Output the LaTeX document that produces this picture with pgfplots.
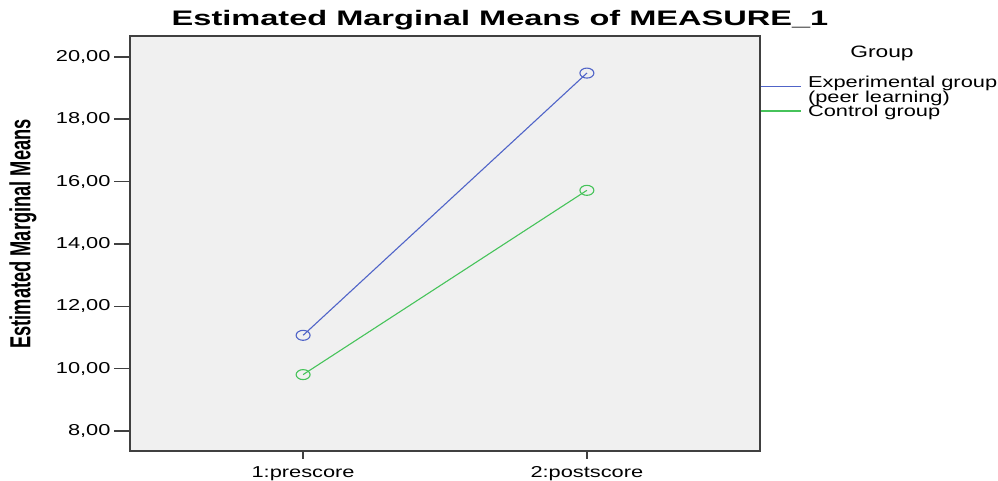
\documentclass[border=0pt]{standalone}
\usepackage{pgfplots}
\pgfplotsset{compat=1.18}
\usepackage{fontspec}
\setmainfont{Liberation Sans}
\newfontfamily\tickfont[FakeStretch=1.38]{Liberation Sans}
\newfontfamily\titlefont[FakeStretch=1.55]{Liberation Sans}
\newfontfamily\ylabfont[FakeStretch=0.63]{Liberation Sans}
\definecolor{spssblue}{RGB}{80,100,200}
\definecolor{spssgreen}{RGB}{70,195,90}
\definecolor{bg}{RGB}{240,240,240}
\definecolor{axc}{RGB}{64,64,64}
\begin{document}
\begin{tikzpicture}
\begin{axis}[name=ax, at={(0,0)}, anchor=south west,
  scale only axis, width=630pt, height=415pt,
  xmin=0.39, xmax=2.61, ymin=7.36, ymax=20.67,
  xtick={1,2}, xticklabels={1:prescore,2:postscore},
  xtick style={draw=none},
  ytick={8,10,12,14,16,18,20},
  xtick pos=bottom, ytick pos=left,
  tick align=outside, major tick length=16pt,
  tick style={axc, line width=1.5pt},
  axis line style={axc, line width=1.5pt},
  axis background/.style={fill=bg},
  yticklabel style={font=\tickfont\fontsize{15.8}{18}\selectfont,
    /pgf/number format/.cd, fixed, fixed zerofill, precision=2, use comma, assume math mode=true},
  xticklabel style={font=\tickfont\fontsize{15.8}{18}\selectfont, yshift=4pt},
  legend cell align=left,
  legend style={at={(1,0.9012)}, anchor=north west, draw=none, fill=none,
    inner sep=0pt, outer sep=0pt, row sep=1pt, column sep=7pt,
    font=\tickfont\fontsize{15.8}{18}\selectfont,
    nodes={inner sep=0pt, anchor=base west, text height=11pt, text depth=2.5pt}},
]
\addplot[spssblue, line width=1.1pt, mark=o, mark size=5pt,
  mark options={xscale=1.4, line width=1.1pt},
  legend image code/.code={\draw[spssblue, line width=1.1pt] (0pt,1.3pt) -- (40pt,1.3pt);}]
  coordinates {(1,11.07) (2,19.48)};
\addlegendentry{Experimental group}
\addlegendimage{empty legend}
\addlegendentry{(peer learning)}
\addplot[spssgreen, line width=1.1pt, mark=o, mark size=5pt,
  mark options={xscale=1.4, line width=1.1pt},
  legend image code/.code={\draw[spssgreen, line width=1.1pt] (0pt,6pt) -- (40pt,6pt);}]
  coordinates {(1,9.81) (2,15.72)};
\addlegendentry{Control group}
\end{axis}
\begin{axis}[at={(0,0)}, anchor=south west,
  scale only axis, width=630pt, height=415pt,
  xmin=0.39, xmax=2.61, ymin=7.36, ymax=20.67,
  axis line style={draw=none},
  xtick={1,2}, xticklabels={}, ytick=\empty,
  xtick pos=bottom,
  tick align=outside, major tick length=8pt,
  tick style={axc, line width=1.5pt}]
\addplot[draw=none] coordinates {(1,10)};
\end{axis}
\node[font=\titlefont\bfseries\fontsize{21}{24}\selectfont, anchor=base]
  at ([shift={(370pt,10pt)}]ax.north west) {Estimated Marginal Means of MEASURE\_1};
\node[font=\ylabfont\bfseries\fontsize{29}{32}\selectfont, rotate=90]
  at ([shift={(-107pt,217pt)}]ax.south west) {Estimated Marginal Means};
\node[font=\tickfont\fontsize{16.5}{18}\selectfont]
  at ([shift={(122pt,-17pt)}]ax.north east) {Group};
\pgfresetboundingbox
\path ([shift={(-130pt,-30pt)}]ax.south west) rectangle ([shift={(238pt,36pt)}]ax.north east);
\end{tikzpicture}
\end{document}
